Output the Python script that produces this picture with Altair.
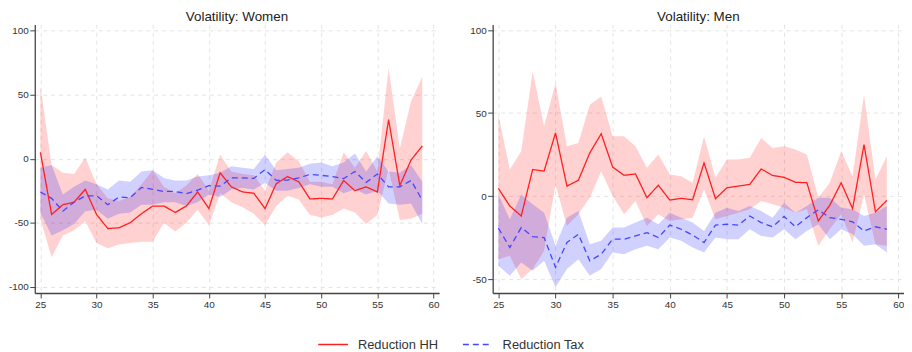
import altair as alt
import pandas as pd

ages = list(range(25, 60))

# Women
w_hh = [5, -43.6, -36, -34, -24, -43.6, -54.6, -54, -50, -43, -37, -37, -42, -37, -26, -39,
        -11, -22, -26, -27, -39, -19.5, -14, -18, -31.5, -31, -31.5, -17, -25, -22, -26, 30.5,
        -21, -1, 10]
w_hh_hi = [57, -5, -11, -12, 1, -20, -31, -33, -30, -20, -9, -22, -27, -21, -12, -25,
           3, -10, -12, -13, -25, -3, 5, -2, -18, -18, -20, 5, -7, 6, -10, 71,
           8, 45, 64]
w_hh_lo = [-47, -77, -60, -56, -49, -66, -70, -67, -66, -65, -65, -50, -57, -50, -40, -52,
           -27, -34, -38, -43, -52, -37, -29, -32, -44, -46, -44, -39, -42, -51, -44, -8,
           -48, -47, -43]
w_tax = [-26, -31, -41, -34, -29, -29, -36, -30, -30.5, -22.5, -24, -25.6, -25.6, -27.4, -24.6, -21,
         -21.5, -15, -15, -15.4, -8.5, -17, -16.7, -15, -12.3, -13, -14, -15.6, -10, -18.5, -12, -22,
         -22, -17, -32.6]
w_tax_hi = [-7, -5, -28, -22, -17, -20, -24, -17, -18, -10, -9, -15, -17, -17, -14, -13,
            -11, -6, -7, -8, 3, -9, -8, -7, -4, -3, -6, -3, 4, -10, 2, -10,
            -11, -5, -18]
w_tax_lo = [-42, -60, -56, -51, -41, -40, -47, -43, -42, -36, -36, -34, -34, -37, -34, -28,
            -30, -24, -23, -24, -19, -25, -25, -23, -20, -22, -22, -27, -24, -28, -25, -35,
            -36, -35, -51]

# Men
m_hh = [4.6, -6, -12, 16, 15, 38, 6, 9.5, 26, 37.5, 17.5, 12.5, 13.3, -1, 6.5, -2.4,
        -1.4, -2.2, 20, -1.6, 5, 6, 7, 16.3, 12.4, 11.3, 8.3, 8, -15, -5.6, 8, -7.6,
        31, -9.5, -2.6]
m_hh_hi = [49, 16, 27, 75, 42, 68, 30, 32, 55, 60, 36, 36, 30, 17, 25, 13,
           12, 8, 36, 11, 22, 22, 23, 35, 29, 30, 28, 25, -1, 8, 27, 12,
           61, 10, 24]
m_hh_lo = [-38, -36, -50, -44, -33, 7, -18, -11, -1, 15, 0, -11, -3, -18, -11, -15,
           -14, -13, 4, -14, -12, -10, -8, -3, -5, -7, -10, -8, -30, -20, -11, -28,
           1, -29, -30]
m_tax = [-19.3, -31, -19, -24.5, -25, -43, -28, -23, -39, -35, -26, -26, -24, -22, -25, -17.5,
         -20, -23.5, -28, -17.5, -17, -17.5, -12, -16, -18.5, -12.3, -18.5, -13, -8.3, -13, -14, -15.5,
         -21, -18.5, -20]
m_tax_hi = [1, -14, 1, -5, -10, -30, -13, -9, -29, -27, -19, -19, -16, -13, -17, -10,
            -13, -16, -21, -10, -7, -9, -6, -9, -13, -4, -10, -6, -1, -1, -7, -8,
            -12, -10, -6]
m_tax_lo = [-42, -48, -40, -45, -39, -55, -44, -38, -48, -44, -34, -35, -32, -30, -32, -25,
            -27, -31, -34, -25, -26, -26, -20, -24, -25, -20, -26, -21, -17, -26, -20, -23,
            -30, -29, -34]

series_names = ["Reduction HH", "Reduction Tax"]
colors = ["#ff1f1f", "#4646ff"]
band_colors = ["#ff0000", "#0000ff"]

rows = []
for panel, (hh, hhh, hhl, tx, txh, txl) in {
    "Women": (w_hh, w_hh_hi, w_hh_lo, w_tax, w_tax_hi, w_tax_lo),
    "Men": (m_hh, m_hh_hi, m_hh_lo, m_tax, m_tax_hi, m_tax_lo),
}.items():
    for i, a in enumerate(ages):
        rows.append(dict(panel=panel, age=a, series="Reduction HH", est=hh[i], hi=hhh[i], lo=hhl[i]))
        rows.append(dict(panel=panel, age=a, series="Reduction Tax", est=tx[i], hi=txh[i], lo=txl[i]))
df = pd.DataFrame(rows)

FONT = "Liberation Sans"
x_ticks = [25, 30, 35, 40, 45, 50, 55, 60]

legend_kw = dict(title=None, orient="none", legendX=285, legendY=307,
                 direction="horizontal", columns=2,
                 symbolType="stroke", symbolSize=900, symbolStrokeWidth=1.5,
                 labelFontSize=13, labelFont=FONT, labelColor="#333333",
                 labelOffset=9, columnPadding=22)


def panel_chart(name, ydomain, yticks, width):
    base = alt.Chart(df).transform_filter(alt.datum.panel == name)
    x = alt.X("age:Q", scale=alt.Scale(domain=[24.5, 60.5], nice=False, zero=False),
              axis=alt.Axis(values=x_ticks, title=None, grid=True))
    y_axis = alt.Axis(values=yticks, title=None, grid=True, labelExpr="'' + datum.value")
    yscale = alt.Scale(domain=ydomain, nice=False, zero=False)
    bands = base.mark_area(opacity=0.18, clip=True).encode(
        x=x,
        y=alt.Y("lo:Q", scale=yscale, axis=y_axis),
        y2="hi:Q",
        fill=alt.Color("series:N", scale=alt.Scale(domain=series_names, range=band_colors), legend=None),
        detail="series:N",
    )
    lines = base.mark_line(clip=True).encode(
        x=x,
        y=alt.Y("est:Q", scale=yscale, axis=y_axis),
        color=alt.Color("series:N", scale=alt.Scale(domain=series_names, range=colors),
                        legend=alt.Legend(**legend_kw)),
        strokeDash=alt.StrokeDash("series:N", scale=alt.Scale(domain=series_names, range=[[1, 0], [6, 4]]),
                                  legend=alt.Legend(**legend_kw)),
        strokeWidth=alt.value(1.3),
    )
    return alt.layer(bands, lines).resolve_scale(fill="independent").properties(
        width=width, height=271,
        title=alt.TitleParams(f"Volatility: {name}", fontSize=13.5, font=FONT, fontWeight="normal",
                              color="#222222", anchor="middle", offset=1),
    )


left = panel_chart("Women", [-105, 105], [-100, -50, 0, 50, 100], 408)
right = panel_chart("Men", [-58.4, 103.4], [-50, 0, 50, 100], 415)

chart = alt.hconcat(left, right, spacing=30).resolve_scale(y="independent").properties(
    padding={"left": 0, "top": 0, "right": 0, "bottom": 0}
).configure_view(stroke=None).configure_axis(
    labelFont=FONT, labelFontSize=10, labelColor="#333333", labelPadding=1.5,
    domainColor="#444444", domainWidth=1.3, tickColor="#444444", tickSize=5, tickWidth=1,
    gridColor="#e4e4e4", gridDash=[4, 4], gridWidth=1,
).configure_axisX(labelFlush=False)

chart.save("out.html", embed_options={"renderer": "svg", "actions": False})
